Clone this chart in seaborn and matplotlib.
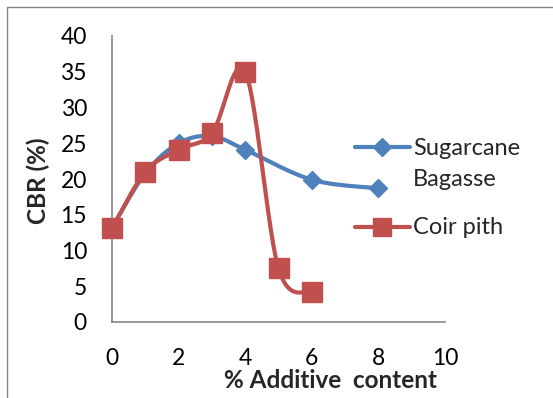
import numpy as np
import pandas as pd
import matplotlib
matplotlib.use("Agg")
import matplotlib.pyplot as plt
import seaborn as sns
from matplotlib.lines import Line2D
from matplotlib.patches import Rectangle

# ---- data ----
additive = [0, 1, 2, 3, 4, 6, 8]
sugarcane = [13.2, 20.8, 25.0, 26.0, 24.1, 19.9, 18.7]
coir_x = [0, 1, 2, 3, 4, 5, 6]
coir = [13.1, 21.0, 24.1, 26.4, 35.0, 7.5, 4.2]
x_ticks = [0, 2, 4, 6, 8, 10]
y_ticks = [0, 5, 10, 15, 20, 25, 30, 35, 40]
series_names = ["Sugarcane\nBagasse", "Coir pith"]

BLUE = "#4F81BD"
RED = "#C0504D"
GRAY = "#868686"
FONT = "Lato"


def smooth(xs, ys, n=40):
    """Excel-like smoothed curve (Catmull-Rom Bezier) through the points."""
    P = np.column_stack([xs, ys]).astype(float)
    P = np.vstack([P[0], P, P[-1]])
    out = []
    t = np.linspace(0, 1, n)[:, None]
    for i in range(1, len(P) - 2):
        p0, p1, p2, p3 = P[i - 1], P[i], P[i + 1], P[i + 2]
        c1 = p1 + (p2 - p0) / 6.0
        c2 = p2 - (p3 - p1) / 6.0
        seg = ((1 - t) ** 3) * p1 + 3 * ((1 - t) ** 2) * t * c1 + 3 * (1 - t) * t ** 2 * c2 + t ** 3 * p2
        out.append(seg if i == 1 else seg[1:])
    arr = np.vstack(out)
    return arr[:, 0], arr[:, 1]


sns.set_theme(style="white")
plt.rcParams["font.family"] = [FONT, "DejaVu Sans"]

W, H = 553, 398
fig = plt.figure(figsize=(W / 100, H / 100), dpi=100)
L, R, T, B = 112, 445, 36, 322
ax = fig.add_axes([L / W, 1 - B / H, (R - L) / W, (B - T) / H])

sx, sy = smooth(additive, sugarcane)
cx, cy = smooth(coir_x, coir)
df_s = pd.DataFrame({"x": sx, "y": sy})
df_c = pd.DataFrame({"x": cx, "y": cy})

sns.lineplot(data=df_s, x="x", y="y", ax=ax, color=BLUE, lw=3, sort=False,
             estimator=None, clip_on=False, zorder=3)
ax.plot(additive, sugarcane, ls="none", marker="D", ms=9.5, color=BLUE,
        mec=BLUE, clip_on=False, zorder=4)
sns.lineplot(data=df_c, x="x", y="y", ax=ax, color=RED, lw=3, sort=False,
             estimator=None, clip_on=False, zorder=5)
ax.plot(coir_x, coir, ls="none", marker="s", ms=14, color=RED,
        mec=RED, clip_on=False, zorder=6)

ax.set_xlim(0, 10)
ax.set_ylim(0, 40)
ax.set_xticks(x_ticks)
ax.set_yticks(y_ticks)
ax.set_xticklabels([str(v) for v in x_ticks])
ax.set_yticklabels([str(v) for v in y_ticks])
ax.tick_params(axis="both", length=0, labelsize=16.5, colors="black")
ax.tick_params(axis="x", pad=19)
ax.tick_params(axis="y", pad=18)
ax.set_xlabel("")
ax.set_ylabel("")
for s in ["top", "right"]:
    ax.spines[s].set_visible(False)
for s in ["left", "bottom"]:
    ax.spines[s].set_color(GRAY)
    ax.spines[s].set_linewidth(1.2)
ax.grid(False)

# axis titles
fig.text(331 / W, 1 - 381 / H, "% Additive  content", ha="center", va="center",
         fontsize=17.5, fontweight="bold")
fig.text(38 / W, 1 - 181 / H, "CBR (%)", ha="center", va="center",
         rotation=90, fontsize=17.5, fontweight="bold")

# legend (drawn manually beside the plot)
def fx(p):
    return p / W

def fy(p):
    return 1 - p / H

fig.add_artist(Line2D([fx(355), fx(410)], [fy(147), fy(147)], color=BLUE, lw=3,
                      transform=fig.transFigure))
fig.add_artist(Line2D([fx(382)], [fy(147)], marker="D", ms=9.5, color=BLUE,
                      transform=fig.transFigure))
fig.add_artist(Line2D([fx(355), fx(410)], [fy(227), fy(227)], color=RED, lw=3,
                      transform=fig.transFigure))
fig.add_artist(Line2D([fx(382)], [fy(227)], marker="s", ms=13, color=RED,
                      transform=fig.transFigure))
name1, name2 = series_names[0].split("\n")
fig.text(fx(413), fy(148), name1, ha="left", va="center", fontsize=17)
fig.text(fx(413), fy(180), name2, ha="left", va="center", fontsize=17)
fig.text(fx(413), fy(227), series_names[1], ha="left", va="center", fontsize=17)

# outer chart border (partially cropped as in the reference)
fig.add_artist(Rectangle((7 / W, -0.2), 1.5, 1.2 - 7 / H, transform=fig.transFigure,
                         fill=False, edgecolor=GRAY, lw=1))

fig.savefig("out.png", dpi=100)
